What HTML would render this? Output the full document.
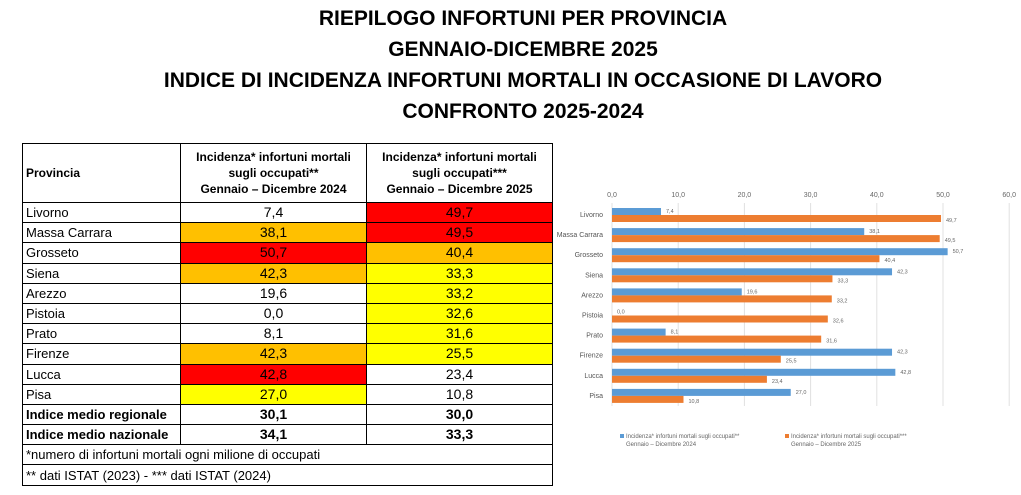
<!DOCTYPE html>
<html><head><meta charset="utf-8"><style>
body{margin:0;width:1021px;height:495px;background:#fff;font-family:"Liberation Sans",sans-serif;overflow:hidden;position:relative}
.t{position:absolute;left:0;width:1046px;text-align:center;font-weight:bold;font-size:21px;color:#000}
table{position:absolute;left:22px;top:143px;width:530px;table-layout:fixed;border-collapse:collapse;font-size:13px}
td{border:1.5px solid #000;padding:0 3px;height:19.2px;line-height:19px;white-space:nowrap;overflow:hidden}
td.v{text-align:center;font-size:14px}
.h td{height:58px;font-weight:bold;font-size:12px;line-height:16px}
.b td{font-weight:bold}
.r{background:#ff0000}.o{background:#ffc000}.y{background:#ffff00}
</style></head><body>
<div class="t" style="top:7px">RIEPILOGO INFORTUNI PER PROVINCIA</div>
<div class="t" style="top:38px">GENNAIO-DICEMBRE 2025</div>
<div class="t" style="top:69px">INDICE DI INCIDENZA INFORTUNI MORTALI IN OCCASIONE DI LAVORO</div>
<div class="t" style="top:100px">CONFRONTO 2025-2024</div>
<table>
<colgroup><col style="width:158px"><col style="width:186px"><col style="width:186px"></colgroup>
<tr class="h"><td>Provincia</td><td style="text-align:center">Incidenza* infortuni mortali<br>sugli occupati**<br>Gennaio – Dicembre 2024</td><td style="text-align:center">Incidenza* infortuni mortali<br>sugli occupati***<br>Gennaio – Dicembre 2025</td></tr>
<tr><td>Livorno</td><td class="v">7,4</td><td class="v r">49,7</td></tr>
<tr><td>Massa Carrara</td><td class="v o">38,1</td><td class="v r">49,5</td></tr>
<tr><td>Grosseto</td><td class="v r">50,7</td><td class="v o">40,4</td></tr>
<tr><td>Siena</td><td class="v o">42,3</td><td class="v y">33,3</td></tr>
<tr><td>Arezzo</td><td class="v">19,6</td><td class="v y">33,2</td></tr>
<tr><td>Pistoia</td><td class="v">0,0</td><td class="v y">32,6</td></tr>
<tr><td>Prato</td><td class="v">8,1</td><td class="v y">31,6</td></tr>
<tr><td>Firenze</td><td class="v o">42,3</td><td class="v y">25,5</td></tr>
<tr><td>Lucca</td><td class="v r">42,8</td><td class="v">23,4</td></tr>
<tr><td>Pisa</td><td class="v y">27,0</td><td class="v">10,8</td></tr>
<tr class="b"><td>Indice medio regionale</td><td class="v">30,1</td><td class="v">30,0</td></tr>
<tr class="b"><td>Indice medio nazionale</td><td class="v">34,1</td><td class="v">33,3</td></tr>
<tr><td colspan="3">*numero di infortuni mortali ogni milione di occupati</td></tr>
<tr><td colspan="3">** dati ISTAT (2023) - *** dati ISTAT (2024)</td></tr>
</table>
<svg id="c" width="1021" height="495" style="position:absolute;left:0;top:0"></svg>
<script>
const categories=["Livorno","Massa Carrara","Grosseto","Siena","Arezzo","Pistoia","Prato","Firenze","Lucca","Pisa"];
const values2024=[7.4,38.1,50.7,42.3,19.6,0.0,8.1,42.3,42.8,27.0];
const values2025=[49.7,49.5,40.4,33.3,33.2,32.6,31.6,25.5,23.4,10.8];
const ticks=[0,10,20,30,40,50,60];
const svg=document.getElementById('c');const NS='http://www.w3.org/2000/svg';
const x=v=>612+v*6.62;const rowY=i=>208+i*20.1;
function mk(t,a,txt){const e=document.createElementNS(NS,t);for(const k in a)e.setAttribute(k,a[k]);if(txt!=null)e.textContent=txt;svg.appendChild(e);return e;}
const fmt=v=>v.toFixed(1).replace('.',',');
ticks.forEach(t=>{
 const g=mk('line',{x1:x(t),x2:x(t),y1:203,y2:406,stroke:'#e0e0e0','stroke-width':1});
 
 
 const l=mk('text',{x:x(t),y:197,'font-size':7,fill:'#666','text-anchor':'middle'},fmt(t));
 
 
});
categories.forEach((c,i)=>{
 const y=rowY(i);
 const l=mk('text',{x:603,y:y+9,'font-size':7,fill:'#555','text-anchor':'end'},c);
 
 
 const b1=mk('rect',{x:x(0),y:y,width:x(values2024[i])-x(0),height:7,fill:'#5b9bd5'});
 
 
 const b2=mk('rect',{x:x(0),y:y+7,width:x(values2025[i])-x(0),height:7,fill:'#ed7d31'});
 
 
 const v1=mk('text',{x:x(values2024[i])+5,y:y+5,'font-size':5.5,fill:'#666'},fmt(values2024[i]));
 
 
 const v2=mk('text',{x:x(values2025[i])+5,y:y+14,'font-size':5.5,fill:'#666'},fmt(values2025[i]));
 
 
});
[[620,'#5b9bd5','Incidenza* infortuni mortali  sugli occupati**','Gennaio – Dicembre 2024'],[785,'#ed7d31','Incidenza* infortuni mortali  sugli occupati***','Gennaio – Dicembre 2025']].forEach(d=>{
 const r=mk('rect',{x:d[0],y:434,width:4,height:4,fill:d[1]});
 
 
 const t1=mk('text',{x:d[0]+6,y:438,'font-size':6,fill:'#666'},d[2]);
 
 
 const t2=mk('text',{x:d[0]+6,y:446,'font-size':6,fill:'#666'},d[3]);
 
 
});
</script>
</body></html>
